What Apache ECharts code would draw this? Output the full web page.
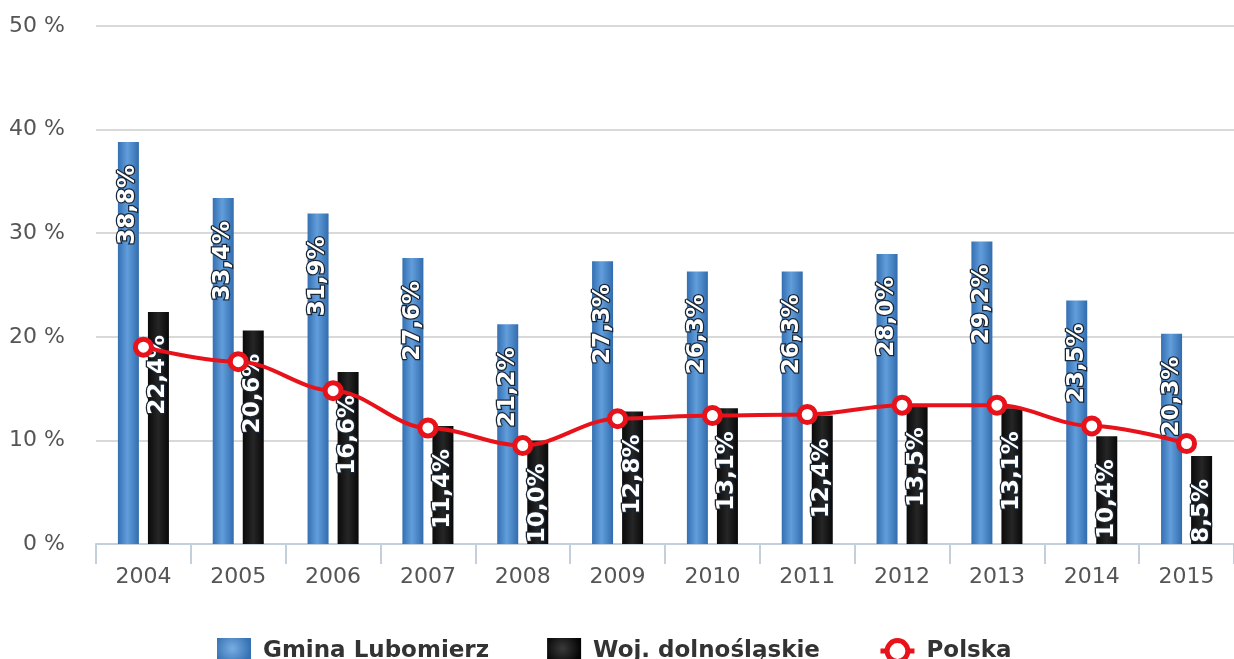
<!DOCTYPE html>
<html>
<head>
<meta charset="utf-8">
<script src="https://cdn.jsdelivr.net/npm/echarts@6/dist/echarts.min.js"></script>
<style>html,body{margin:0;padding:0;background:#fff;}#c{width:1234px;height:659px;}</style>
</head>
<body>
<div id="c"></div>
<script>
const categories = ['2004','2005','2006','2007','2008','2009','2010','2011','2012','2013','2014','2015'];
const gminaLubomierz = [38.8, 33.4, 31.9, 27.6, 21.2, 27.3, 26.3, 26.3, 28.0, 29.2, 23.5, 20.3];
const wojDolnoslaskie = [22.4, 20.6, 16.6, 11.4, 10.0, 12.8, 13.1, 12.4, 13.5, 13.1, 10.4, 8.5];
const polska = [19.0, 17.6, 14.8, 11.2, 9.5, 12.1, 12.4, 12.5, 13.4, 13.4, 11.4, 9.7];
const yTicks = [0, 10, 20, 30, 40, 50];

const chart = echarts.init(document.getElementById('c'), null, {renderer: 'canvas'});
const fmt = p => p.value.toFixed(1).replace('.', ',') + '%';
const blueGrad = new echarts.graphic.LinearGradient(0, 0, 1, 0, [
  {offset: 0, color: '#346fb2'},
  {offset: 0.45, color: '#629edb'},
  {offset: 1, color: '#326cae'}
]);
const blackGrad = new echarts.graphic.LinearGradient(0, 0, 1, 0, [
  {offset: 0, color: '#0a0a0a'},
  {offset: 0.5, color: '#262626'},
  {offset: 1, color: '#080808'}
]);
const blueLegend = new echarts.graphic.RadialGradient(0.45, 0.4, 0.7, [
  {offset: 0, color: '#78aee2'},
  {offset: 1, color: '#3571b3'}
]);
const blackLegend = new echarts.graphic.RadialGradient(0.45, 0.4, 0.7, [
  {offset: 0, color: '#3a3a3a'},
  {offset: 1, color: '#050505'}
]);
const barLabel = {
  show: true,
  position: 'insideTop',
  distance: 23,
  rotate: 90,
  align: 'right',
  verticalAlign: 'middle',
  formatter: fmt,
  color: '#ffffff',
  fontFamily: 'DejaVu Sans',
  fontWeight: 'bold',
  fontSize: 23,
  textBorderColor: '#1a2633',
  textBorderWidth: 2.5
};
chart.setOption({
  animation: false,
  backgroundColor: '#ffffff',
  grid: {left: 96, top: 26, width: 1147, bottom: 115, containLabel: false},
  legend: {
    left: 212,
    top: 633,
    itemWidth: 34,
    itemHeight: 26,
    itemGap: 58,
    textStyle: {color: '#333333', fontFamily: 'DejaVu Sans', fontWeight: 'bold', fontSize: 23, padding: [0, 0, 0, 7]},
    data: [
      {name: 'Gmina Lubomierz', icon: 'rect', itemStyle: {color: blueLegend}},
      {name: 'Woj. dolnośląskie', icon: 'rect', itemStyle: {color: blackLegend}},
      {name: 'Polska', itemStyle: {borderWidth: 5}, lineStyle: {width: 5}}
    ]
  },
  xAxis: {
    type: 'category',
    data: categories,
    boundaryGap: true,
    axisLine: {show: true, lineStyle: {color: '#c3d0dc', width: 2}},
    axisTick: {show: true, length: 20, lineStyle: {color: '#c3d0dc', width: 2}},
    axisLabel: {color: '#555555', fontFamily: 'DejaVu Sans', fontSize: 22, margin: 22}
  },
  yAxis: {
    type: 'value',
    min: yTicks[0],
    max: yTicks[yTicks.length - 1],
    interval: 10,
    axisLine: {show: false},
    axisTick: {show: false},
    splitLine: {lineStyle: {color: '#d9d9d9', width: 2}},
    axisLabel: {color: '#555555', fontFamily: 'DejaVu Sans', fontSize: 22, margin: 31, formatter: '{value} %'}
  },
  series: [
    {
      name: 'Gmina Lubomierz',
      type: 'bar',
      data: gminaLubomierz,
      barWidth: 21,
      barGap: '43%',
      itemStyle: {color: blueGrad},
      label: barLabel,
      z: 2
    },
    {
      name: 'Woj. dolnośląskie',
      type: 'bar',
      data: wojDolnoslaskie,
      barWidth: 21,
      barGap: '43%',
      itemStyle: {color: blackGrad},
      label: barLabel,
      z: 2
    },
    {
      name: 'Polska',
      type: 'line',
      data: polska,
      smooth: 0.35,
      smoothMonotone: 'x',
      symbol: 'circle',
      symbolSize: 16,
      lineStyle: {color: '#e8121a', width: 4},
      itemStyle: {color: '#ffffff', borderColor: '#e8121a', borderWidth: 5},
      z: 5
    }
  ]
});
</script>
</body>
</html>
